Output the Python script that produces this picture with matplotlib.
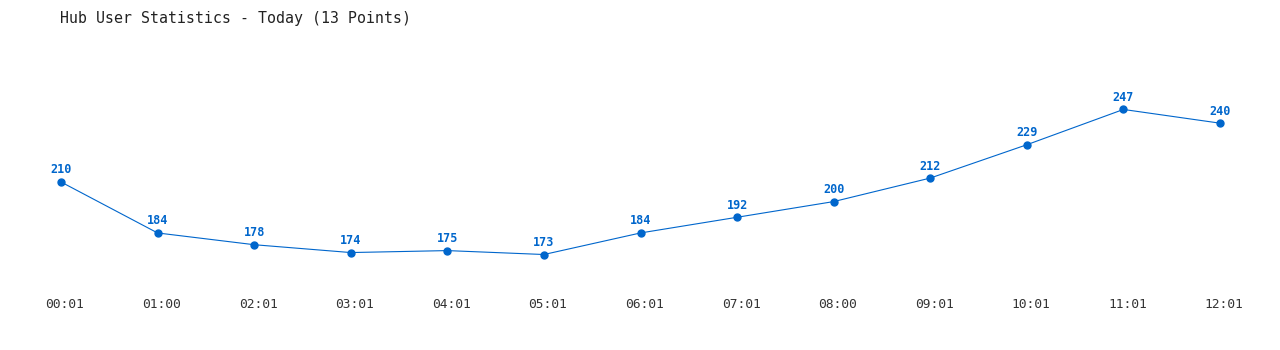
import matplotlib.pyplot as plt

times = ['00:01', '01:00', '02:01', '03:01', '04:01', '05:01', '06:01',
         '07:01', '08:00', '09:01', '10:01', '11:01', '12:01']
users = [210, 184, 178, 174, 175, 173, 184, 192, 200, 212, 229, 247, 240]

blue = '#0066cc'
mono = ['DejaVu Sans Mono']

n = len(times)
unit = (1220 - 61) / (n - 1)   # pixels between points
extra = 10                     # pixels of room past the last point

fig = plt.figure(figsize=(12.8, 3.5), dpi=100)
ax = fig.add_axes([61 / 1280, 0.2, (1220 + extra - 61) / 1280, 0.657])

x = list(range(n))
ax.plot(x, users, color=blue, linewidth=0.8, marker='o', markersize=5,
        clip_on=False)
for xi, v in zip(x, users):
    ax.annotate(str(v), (xi, v), xytext=(0, 4), textcoords='offset points',
                ha='center', va='bottom', color=blue, fontsize=8.5,
                fontweight='bold', family=mono)

# labels sit a few pixels right of the points in the original
nudge = 4 / unit
ax.set_xticks([xi + nudge for xi in x])
ax.set_xticklabels(times, family=mono, fontsize=9.3, color='#333333')
ax.set_xlim(0, n - 1 + extra / unit)
ax.set_ylim(160, 277.3)
ax.set_yticks([])
ax.tick_params(axis='x', length=0, pad=13)
for s in ax.spines.values():
    s.set_visible(False)

fig.text(60 / 1280, 1 - 18 / 350, 'Hub User Statistics - Today (13 Points)',
         family=mono, fontsize=10.7, color='#222222', va='center', ha='left')

fig.savefig('out.png', dpi=100)
